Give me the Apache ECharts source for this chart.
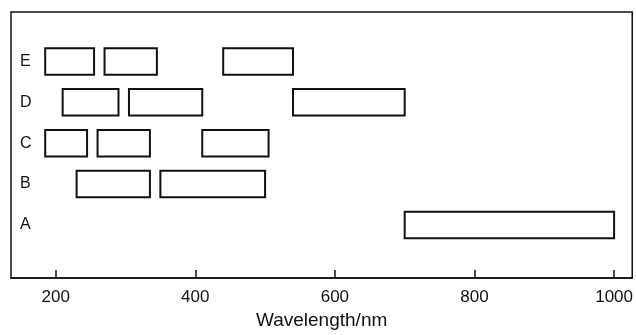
<!DOCTYPE html>
<html>
<head>
<meta charset="utf-8">
<script src="https://cdn.jsdelivr.net/npm/echarts@6/dist/echarts.min.js"></script>
<style>
  html, body { margin: 0; padding: 0; background: #fff; }
  #chart { width: 636px; height: 335px; }
</style>
</head>
<body>
<div id="chart"></div>
<script>
// rows, bottom to top
var categories = ['A', 'B', 'C', 'D', 'E'];
// each band: row index, start and end wavelength (nm)
var bandRow = [0, 1, 1, 2, 2, 2, 3, 3, 3, 4, 4, 4];
var bandLow = [700, 230, 350, 185, 260, 410, 210, 305, 540, 185, 270, 440];
var bandHigh = [1000, 335, 500, 245, 335, 505, 290, 410, 700, 255, 345, 540];
var xTicks = [200, 400, 600, 800, 1000];

var data = [];
for (var i = 0; i < bandRow.length; i++) {
    data.push([bandLow[i], bandHigh[i], bandRow[i] + 1]);
}

var myChart = echarts.init(document.getElementById('chart'));
myChart.setOption({
    animation: false,
    textStyle: { fontFamily: 'Liberation Sans' },
    grid: {
        left: 11, right: 2, top: 12, bottom: 52,
        show: true,
        borderColor: '#111',
        borderWidth: 1.5,
        backgroundColor: 'transparent'
    },
    xAxis: {
        type: 'value',
        min: 136,
        max: 1026,
        name: 'Wavelength/nm',
        nameLocation: 'middle',
        nameGap: 29,
        nameTextStyle: { color: '#111', fontSize: 19, padding: [0, 0, 0, 0] },
        axisLine: { show: true, onZero: false, lineStyle: { color: '#111', width: 1.5 } },
        axisTick: {
            show: true, inside: true, length: 8,
            customValues: xTicks,
            lineStyle: { color: '#111', width: 1.5 }
        },
        axisLabel: {
            customValues: xTicks,
            color: '#111', fontSize: 17, margin: 11,
            formatter: function (v) { return String(v); }
        },
        splitLine: { show: false }
    },
    yAxis: {
        type: 'value',
        min: -0.3,
        max: 6.21,
        axisLine: { show: false },
        axisTick: { show: false },
        splitLine: { show: false },
        axisLabel: {
            inside: true,
            margin: 9,
            customValues: [1, 2, 3, 4, 5],
            color: '#111',
            fontSize: 16,
            formatter: function (v) { return categories[Math.round(v) - 1]; }
        }
    },
    series: [
        {
            type: 'custom',
            data: data,
            renderItem: function (params, api) {
                var p1 = api.coord([api.value(0), api.value(2)]);
                var p2 = api.coord([api.value(1), api.value(2)]);
                var h = api.size([0, 0.65])[1];
                return {
                    type: 'rect',
                    shape: { x: p1[0], y: p1[1] - h / 2, width: p2[0] - p1[0], height: h },
                    style: { fill: '#fff', stroke: '#111', lineWidth: 2 }
                };
            }
        }
    ]
});
</script>
</body>
</html>
